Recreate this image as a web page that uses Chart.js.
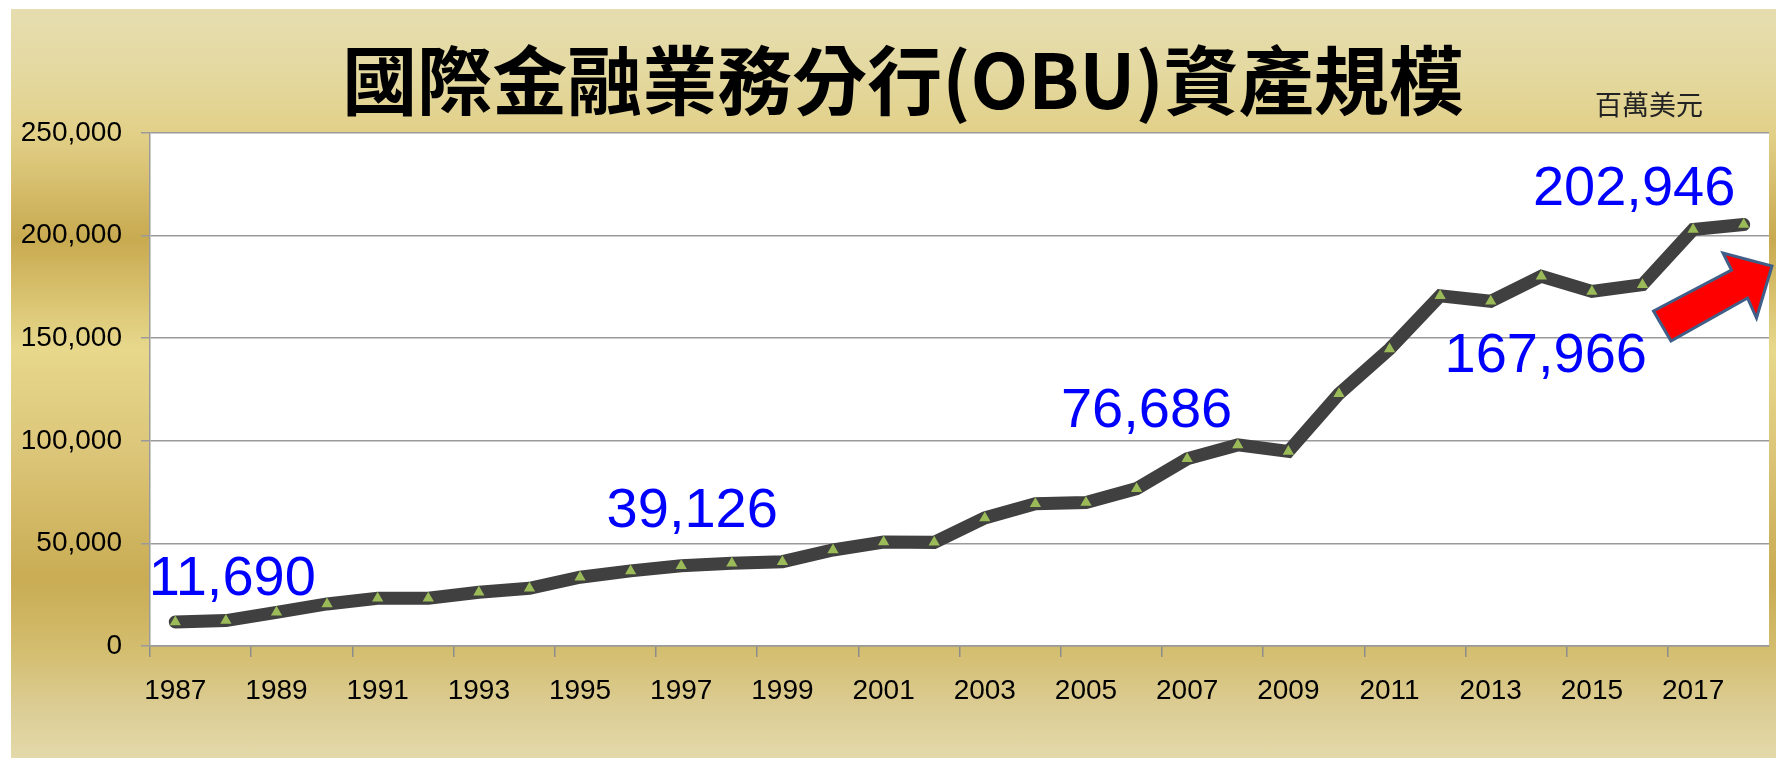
<!DOCTYPE html>
<html>
<head>
<meta charset="utf-8">
<script src="https://cdn.jsdelivr.net/npm/chart.js@4.4.0/dist/chart.umd.min.js"></script>
<style>
  html, body { margin: 0; padding: 0; background: #fff; overflow: hidden; }
  .panel {
    position: absolute; left: 11px; top: 9px; width: 1765px; height: 749px;
    background: linear-gradient(to bottom,
      #e6ddb0 0px, #e4d9a1 60px, #e2d088 125px, #c8aa50 230px,
      #e7d88c 340px, #dcc679 440px, #c9ac54 570px, #d3bd6e 640px,
      #dccd95 700px, #e3d9a9 749px);
  }
  .wrap { position: absolute; left: 0; top: 0; width: 1776px; height: 758px; }
</style>
</head>
<body>
<div class="panel"></div>
<div class="wrap"><canvas id="obuChart"></canvas></div>
<script>
// 國際金融業務分行(OBU)資產規模, 百萬美元
const years = ['1987', '1988', '1989', '1990', '1991', '1992', '1993', '1994', '1995', '1996',
  '1997', '1998', '1999', '2000', '2001', '2002', '2003', '2004', '2005', '2006',
  '2007', '2008', '2009', '2010', '2011', '2012', '2013', '2014', '2015', '2016',
  '2017', '2018'];
const assets = [11690, 12400, 16400, 20500, 23300, 23300, 26200, 28100, 33500, 36600,
  39126, 40300, 41100, 46800, 50700, 50500, 62400, 69300, 69900, 76686,
  91200, 98000, 94800, 122900, 144700, 170700, 167966, 180200, 172800, 176100,
  202946, 205400];
const labelledYears = ['1987', '1997', '2006', '2013', '2017'];
const yMax = 250000;
const yStep = 50000;
const titleText = '國際金融業務分行(OBU)資產規模';
const unitText = '百萬美元';

// where each blue callout sits, relative to its point (px)
const calloutOffset = {
  '1987': [57, -42],
  '1997': [11, -54],
  '2006': [10, -77],
  '2013': [55, 55],
  '2017': [-59, -40],
};

// red arrow outline, relative to the plot's top-right corner
const arrowShape = [[-98, 208], [-115.5, 178], [-37.5, 137], [-46, 120], [3, 133], [-12.5, 185], [-21.5, 165]];

const tickFont = { family: '"Liberation Sans", Arial, sans-serif', size: 28 };

const decorations = {
  id: 'decorations',
  beforeDraw(chart) {
    const { ctx, chartArea } = chart;
    ctx.save();
    ctx.fillStyle = '#ffffff';
    ctx.fillRect(chartArea.left, chartArea.top, chartArea.right - chartArea.left, chartArea.bottom - chartArea.top);
    ctx.fillStyle = '#000000';
    ctx.textAlign = 'center';
    ctx.textBaseline = 'middle';
    ctx.font = 'bold 75px "Noto Sans CJK TC"';
    ctx.fillText(titleText, 903, 80);
    ctx.font = '27px "Noto Sans CJK TC"';
    ctx.fillStyle = '#222222';
    ctx.fillText(unitText, 1649, 105);
    ctx.restore();
  },
  afterDatasetsDraw(chart) {
    const { ctx, chartArea } = chart;
    const meta = chart.getDatasetMeta(0);
    ctx.save();
    ctx.font = '56px "Liberation Sans", Arial, sans-serif';
    ctx.fillStyle = '#0000ff';
    ctx.textAlign = 'center';
    ctx.textBaseline = 'middle';
    labelledYears.forEach((yr) => {
      const i = years.indexOf(yr);
      const pt = meta.data[i];
      const off = calloutOffset[yr];
      ctx.fillText(assets[i].toLocaleString('en-US'), pt.x + off[0], pt.y + off[1]);
    });

    ctx.beginPath();
    arrowShape.forEach((p, i) => {
      const x = chartArea.right + p[0];
      const y = chartArea.top + p[1];
      if (i === 0) ctx.moveTo(x, y);
      else ctx.lineTo(x, y);
    });
    ctx.closePath();
    ctx.fillStyle = '#ff0000';
    ctx.fill();
    ctx.lineWidth = 3;
    ctx.strokeStyle = '#3f5f88';
    ctx.lineJoin = 'miter';
    ctx.stroke();
    ctx.restore();
  },
};

new Chart(document.getElementById('obuChart'), {
  type: 'line',
  data: {
    labels: years,
    datasets: [
      {
        label: 'OBU',
        data: assets,
        borderColor: '#404040',
        borderWidth: 13,
        borderCapStyle: 'round',
        borderJoinStyle: 'miter',
        tension: 0,
        pointStyle: 'triangle',
        pointRadius: 6.5,
        pointHoverRadius: 6.5,
        pointBackgroundColor: '#9bbb59',
        pointBorderWidth: 0,
      },
    ],
  },
  options: {
    responsive: true,
    maintainAspectRatio: false,
    animation: false,
    layout: {
      padding: { left: 0, top: 133, right: 7, bottom: 0 },
    },
    plugins: {
      legend: { display: false },
      tooltip: { enabled: false },
    },
    scales: {
      x: {
        offset: true,
        afterFit: (scale) => { scale.height = 112; },
        grid: {
          offset: true,
          drawOnChartArea: false,
          tickLength: 11,
          lineWidth: 1.5,
          color: (c) => (c.index % 2 === 0 ? '#8c8c8c' : 'rgba(0,0,0,0)'),
        },
        border: { color: '#9a9a9a', width: 1.5 },
        ticks: {
          autoSkip: false,
          maxRotation: 0,
          padding: 17,
          color: '#000000',
          font: tickFont,
          callback: (v, i) => (i % 2 === 0 ? years[i] : ''),
        },
      },
      y: {
        min: 0,
        max: yMax,
        afterFit: (scale) => { scale.width = 150; },
        grid: {
          color: '#9a9a9a',
          lineWidth: 1.5,
          tickLength: 9,
        },
        border: { color: '#9a9a9a', width: 1.5 },
        ticks: {
          stepSize: yStep,
          padding: 19,
          color: '#000000',
          font: tickFont,
          callback: (v) => v.toLocaleString('en-US'),
        },
      },
    },
  },
  plugins: [decorations],
});
</script>
</body>
</html>
